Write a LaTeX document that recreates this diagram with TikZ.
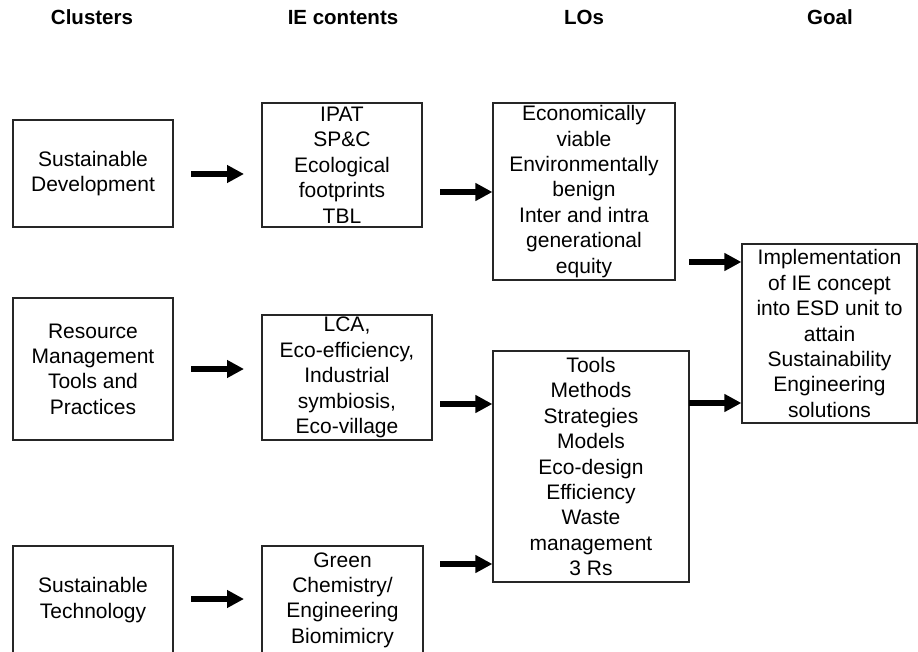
\documentclass[tikz,border=0pt]{standalone}
\usepackage{fontspec}
\setmainfont{Liberation Sans}
\usetikzlibrary{arrows.meta}
\tikzset{
  box/.style={draw=black!85, line width=1.2pt, rectangle, inner sep=0pt, align=center,
    font=\fontsize{21}{25.4}\selectfont},
  head/.style={font=\bfseries\fontsize{20.5}{24}\selectfont, inner sep=0pt, anchor=base},
  bigarrow/.style={line width=6pt, -{Triangle[length=17pt,width=17pt]}},
}
\begin{document}
\begin{tikzpicture}[x=1pt,y=-1pt]
\useasboundingbox (0,0) rectangle (918,652);
\clip (0,0) rectangle (918,652);
% headers
\node[head] (h1) at (92,25) {Clusters};
\node[head] (h2) at (343,25) {IE contents};
\node[head] (h3) at (584,25) {LOs};
\node[head] (h4) at (830,25) {Goal};
% column 1
\node[box, minimum width=160pt, minimum height=107pt] (sd) at (93,173.5) {Sustainable\\Development};
\node[box, minimum width=160pt, minimum height=142pt] (rm) at (93,369) {Resource\\Management\\Tools and\\Practices};
\node[box, minimum width=160pt, minimum height=108pt] (st) at (93,600) {Sustainable\\Technology};
% column 2
\node[box, minimum width=160pt, minimum height=124pt] (ipat) at (342,165) {IPAT\\SP\&C\\Ecological\\footprints\\TBL};
\node[box, minimum width=170pt, minimum height=125pt] (lca) at (347,377.5) {LCA,\\Eco-efficiency,\\Industrial\\symbiosis,\\Eco-village};
\node[box, minimum width=161pt, minimum height=108pt] (gc) at (342.5,600) {Green\\Chemistry/\\Engineering\\Biomimicry};
% column 3
\node[box, minimum width=182pt, minimum height=177pt] (lo1) at (584,191.5) {Economically\\viable\\Environmentally\\benign\\Inter and intra\\generational\\equity};
\node[box, minimum width=196pt, minimum height=231pt] (lo2) at (591,466.5) {Tools\\Methods\\Strategies\\Models\\Eco-design\\Efficiency\\Waste\\management\\3 Rs};
% goal
\node[box, minimum width=175pt, minimum height=179pt] (goal) at (829.5,333.5) {Implementation\\of IE concept\\into ESD unit to\\attain\\Sustainability\\Engineering\\solutions};
% arrow end points
\coordinate (a1s) at (191,174);  \coordinate (a1e) at (244,174);
\coordinate (a2s) at (191,369);  \coordinate (a2e) at (244,369);
\coordinate (a3s) at (191,599);  \coordinate (a3e) at (244,599);
\coordinate (b1s) at (440,192);
\coordinate (b2s) at (440,404);
\coordinate (b3s) at (440,564);
\coordinate (c1s) at (689,262);
\coordinate (c2s) at (689,403);
% arrows
\draw[bigarrow] (a1s) -- (a1e);
\draw[bigarrow] (a2s) -- (a2e);
\draw[bigarrow] (a3s) -- (a3e);
\draw[bigarrow] (b1s) -- (b1s -| lo1.west);
\draw[bigarrow] (b2s) -- (b2s -| lo2.west);
\draw[bigarrow] (b3s) -- (b3s -| lo2.west);
\draw[bigarrow] (c1s) -- (c1s -| goal.west);
\draw[bigarrow] (c2s) -- (c2s -| goal.west);
\end{tikzpicture}
\end{document}
